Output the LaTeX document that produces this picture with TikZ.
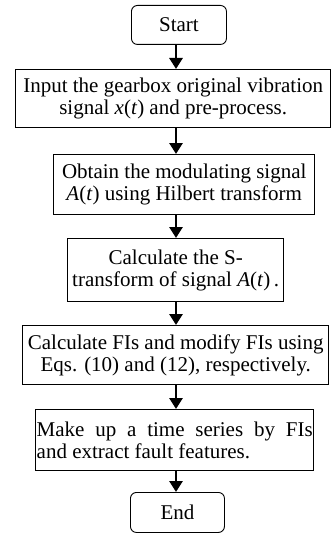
\documentclass[tikz,border=0pt]{standalone}
\usepackage{fontspec}
\setmainfont{Liberation Serif}
\usetikzlibrary{arrows.meta}

\begin{document}
\begin{tikzpicture}[x=1pt, y=-1pt,
	stepbox/.style={draw, line width=1.4pt, anchor=north west, inner xsep=1pt, inner ysep=0pt, align=center, font=\fontsize{21}{22}\selectfont},
	termbox/.style={draw, line width=0.9pt, rounded corners=6pt, anchor=north west, inner sep=0pt, font=\fontsize{21}{22}\selectfont},
	flow/.style={line width=2.8pt, -{Triangle[width=13pt,length=11pt]}}]
				\useasboundingbox (0,0) rectangle (332,535);
				\node[termbox, minimum width=95pt, minimum height=39pt] (start) at (131,5) {Start};
				\node[stepbox, minimum width=315pt, minimum height=58pt] (input) at (15,69) {Input the gearbox original vibration\\signal \textit{x}(\textit{t}) and pre-process.};
				\node[stepbox, minimum width=261pt, minimum height=60pt] (hilbert) at (53,154) {Obtain the modulating signal\\\textit{A}(\textit{t}) using Hilbert transform};
				\node[stepbox, minimum width=216pt, minimum height=63pt] (stran) at (67,238) {Calculate the S-\\transform of signal \textit{A}(\textit{t})\,.};
				\node[stepbox, minimum width=306pt, minimum height=59pt] (fis) at (22,325) {Calculate FIs and modify FIs using\\Eqs. (10) and (12), respectively.};
				\node[stepbox, text width=276pt, minimum height=61pt, align=justify] (series) at (35,409) {\hyphenpenalty=10000 Make up a time series by FIs\linebreak and extract fault features.};
				\node[termbox, minimum width=94pt, minimum height=40pt] (stop) at (130,492) {End};
				\coordinate (spine) at (176,0);
				\foreach \a/\b in {start/input, input/hilbert, hilbert/stran, stran/fis, fis/series, series/stop}
					\draw[flow] (\a.south -| spine) -- (\b.north -| spine);
			\end{tikzpicture}
\end{document}
